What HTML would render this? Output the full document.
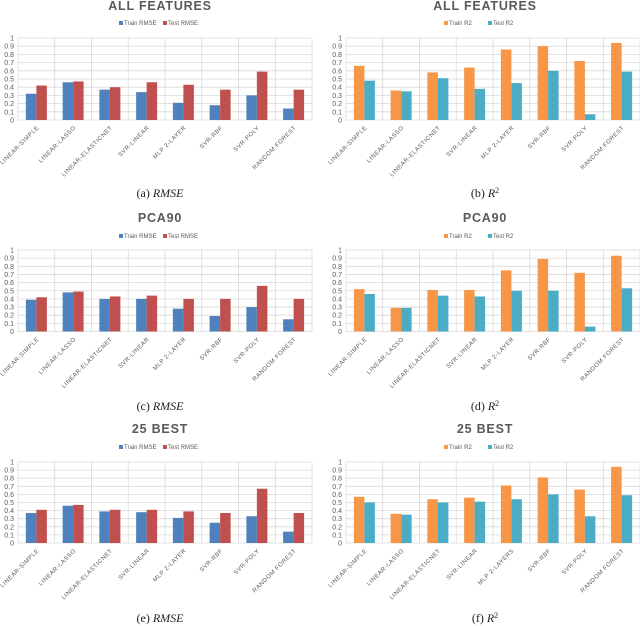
<!DOCTYPE html>
<html><head><meta charset="utf-8"><style>
html,body{margin:0;padding:0;background:#fff;}
svg{display:block;}
.t{font-family:"Liberation Sans",sans-serif;}
</style></head><body>
<svg id="fig" width="640" height="626" viewBox="0 0 640 626" xmlns="http://www.w3.org/2000/svg"></svg>
<script>
const categories = ["LINEAR-SIMPLE","LINEAR-LASSO","LINEAR-ELASTICNET","SVR-LINEAR","MLP 2-LAYER","SVR-RBF","SVR-POLY","RANDOM FOREST"];
const categoriesF = ["LINEAR-SIMPLE","LINEAR-LASSO","LINEAR-ELASTICNET","SVR-LINEAR","MLP 2-LAYERS","SVR-RBF","SVR-POLY","RANDOM FOREST"];
const yTicks = [0,0.1,0.2,0.3,0.4,0.5,0.6,0.7,0.8,0.9,1];
const yTickLabels = ["0","0.1","0.2","0.3","0.4","0.5","0.6","0.7","0.8","0.9","1"];
const aTrain = [0.32,0.46,0.37,0.34,0.21,0.18,0.30,0.14];
const aTest  = [0.42,0.47,0.40,0.46,0.43,0.37,0.59,0.37];
const bTrain = [0.66,0.36,0.58,0.64,0.86,0.90,0.72,0.94];
const bTest  = [0.48,0.35,0.51,0.38,0.45,0.60,0.07,0.59];
const cTrain = [0.39,0.48,0.40,0.40,0.28,0.19,0.30,0.15];
const cTest  = [0.42,0.49,0.43,0.44,0.40,0.40,0.56,0.40];
const dTrain = [0.52,0.29,0.51,0.51,0.75,0.89,0.72,0.93];
const dTest  = [0.46,0.29,0.44,0.43,0.50,0.50,0.06,0.53];
const eTrain = [0.37,0.46,0.39,0.38,0.31,0.25,0.33,0.14];
const eTest  = [0.41,0.47,0.41,0.41,0.39,0.37,0.67,0.37];
const fTrain = [0.57,0.36,0.54,0.56,0.71,0.81,0.66,0.94];
const fTest  = [0.50,0.35,0.50,0.51,0.54,0.60,0.33,0.59];

const NS="http://www.w3.org/2000/svg";
const svg=document.getElementById('fig');
function mk(tag,attrs,parent){const e=document.createElementNS(NS,tag);for(const k in attrs)e.setAttribute(k,attrs[k]);(parent||svg).appendChild(e);return e;}

function panel(p){
  const g=mk('g',{});
  
  
  const L=p.left,R=p.left+294,y0=p.y0,y1=p.y1;
  const ys=v=>y0-(y0-y1)*v;
  const cw=(R-L)/p.cats.length;
  const xs=i=>L+cw*(i+0.5);
  const t=mk('text',{x:p.cx,y:p.titleY,'text-anchor':'middle',class:'t','font-size':'12.5','font-weight':'bold',fill:'#595959','letter-spacing':'0.8'},g);
  t.textContent=p.title;
  
  
  const lg=mk('g',{},g);
  
  
  const ly=p.legY+2;
  mk('rect',{x:p.cx-41,y:ly-4,width:4,height:4,fill:p.c1},lg);
  const l1=mk('text',{x:p.cx-36,y:ly,class:'t','font-size':'6','fill':'#595959'},lg);l1.textContent=p.n1;
  
  
  mk('rect',{x:p.cx+3,y:ly-4,width:4,height:4,fill:p.c2},lg);
  const l2=mk('text',{x:p.cx+8,y:ly,class:'t','font-size':'6',fill:'#595959'},lg);l2.textContent=p.n2;
  
  
  yTicks.forEach((v,i)=>{
    mk('line',{x1:L,x2:R,y1:ys(v),y2:ys(v),stroke:'#d9d9d9','stroke-width':'0.8'},g);
    const tl=mk('text',{x:L-4,y:ys(v)+2.5,'text-anchor':'end',class:'t','font-size':'7',fill:'#595959'},g);
    tl.textContent=yTickLabels[i];
    
    
  });
  for(let i=0;i<=p.cats.length;i++){
    mk('line',{x1:L+cw*i,x2:L+cw*i,y1:y1,y2:y0,stroke:'#d9d9d9','stroke-width':'0.8'},g);
  }
  const bw=10.5;
  p.cats.forEach((c,i)=>{
    const b1=mk('rect',{x:xs(i)-bw,y:ys(p.s1[i]),width:bw,height:y0-ys(p.s1[i]),fill:p.c1},g);
    
    
    const b2=mk('rect',{x:xs(i),y:ys(p.s2[i]),width:bw,height:y0-ys(p.s2[i]),fill:p.c2},g);
    
    
    const xl=mk('text',{x:xs(i)+3,y:y0+8,'text-anchor':'end',class:'t','font-size':'6',fill:'#595959','letter-spacing':'0.5',transform:`rotate(-45 ${xs(i)+3} ${y0+8})`},g);
    xl.textContent=c;
    
    
  });
  const cap=mk('text',{x:p.cx,y:p.capY,'text-anchor':'middle','font-family':'"Liberation Serif",serif','font-size':'12',fill:'#222'},g);
  
  
  if(p.r2){
    cap.innerHTML=`(${p.id}) <tspan font-style="italic">R</tspan><tspan font-size="8" dy="-4">2</tspan>`;
  } else {
    cap.innerHTML=`(${p.id}) <tspan font-style="italic">RMSE</tspan>`;
  }
}
const B='#4f81bd',Rd='#c0504d',O='#f79646',Tl='#4bacc6';
const rows=[{titleY:10,legY:23,y0:120,y1:38,cap:197},{titleY:222,legY:236,y0:331.5,y1:250,cap:410},{titleY:433,legY:447,y0:543,y1:462,cap:622}];
const specs=[
 ['a',0,aTrain,aTest,'ALL FEATURES',false,categories],
 ['b',0,bTrain,bTest,'ALL FEATURES',true,categories],
 ['c',1,cTrain,cTest,'PCA90',false,categories],
 ['d',1,dTrain,dTest,'PCA90',true,categories],
 ['e',2,eTrain,eTest,'25 BEST',false,categories],
 ['f',2,fTrain,fTest,'25 BEST',true,categoriesF]];
specs.forEach(s=>{
  const r=rows[s[1]],r2=s[5];
  panel({id:s[0],titleY:r.titleY,legY:r.legY,y0:r.y0,y1:r.y1,capY:r.cap,left:r2?346:18,cx:r2?485:160,
    s1:s[2],s2:s[3],title:s[4],r2:r2,cats:s[6],
    c1:r2?O:B,c2:r2?Tl:Rd,n1:r2?'Train R2':'Train RMSE',n2:r2?'Test R2':'Test RMSE'});
});
</script>
</body></html>
